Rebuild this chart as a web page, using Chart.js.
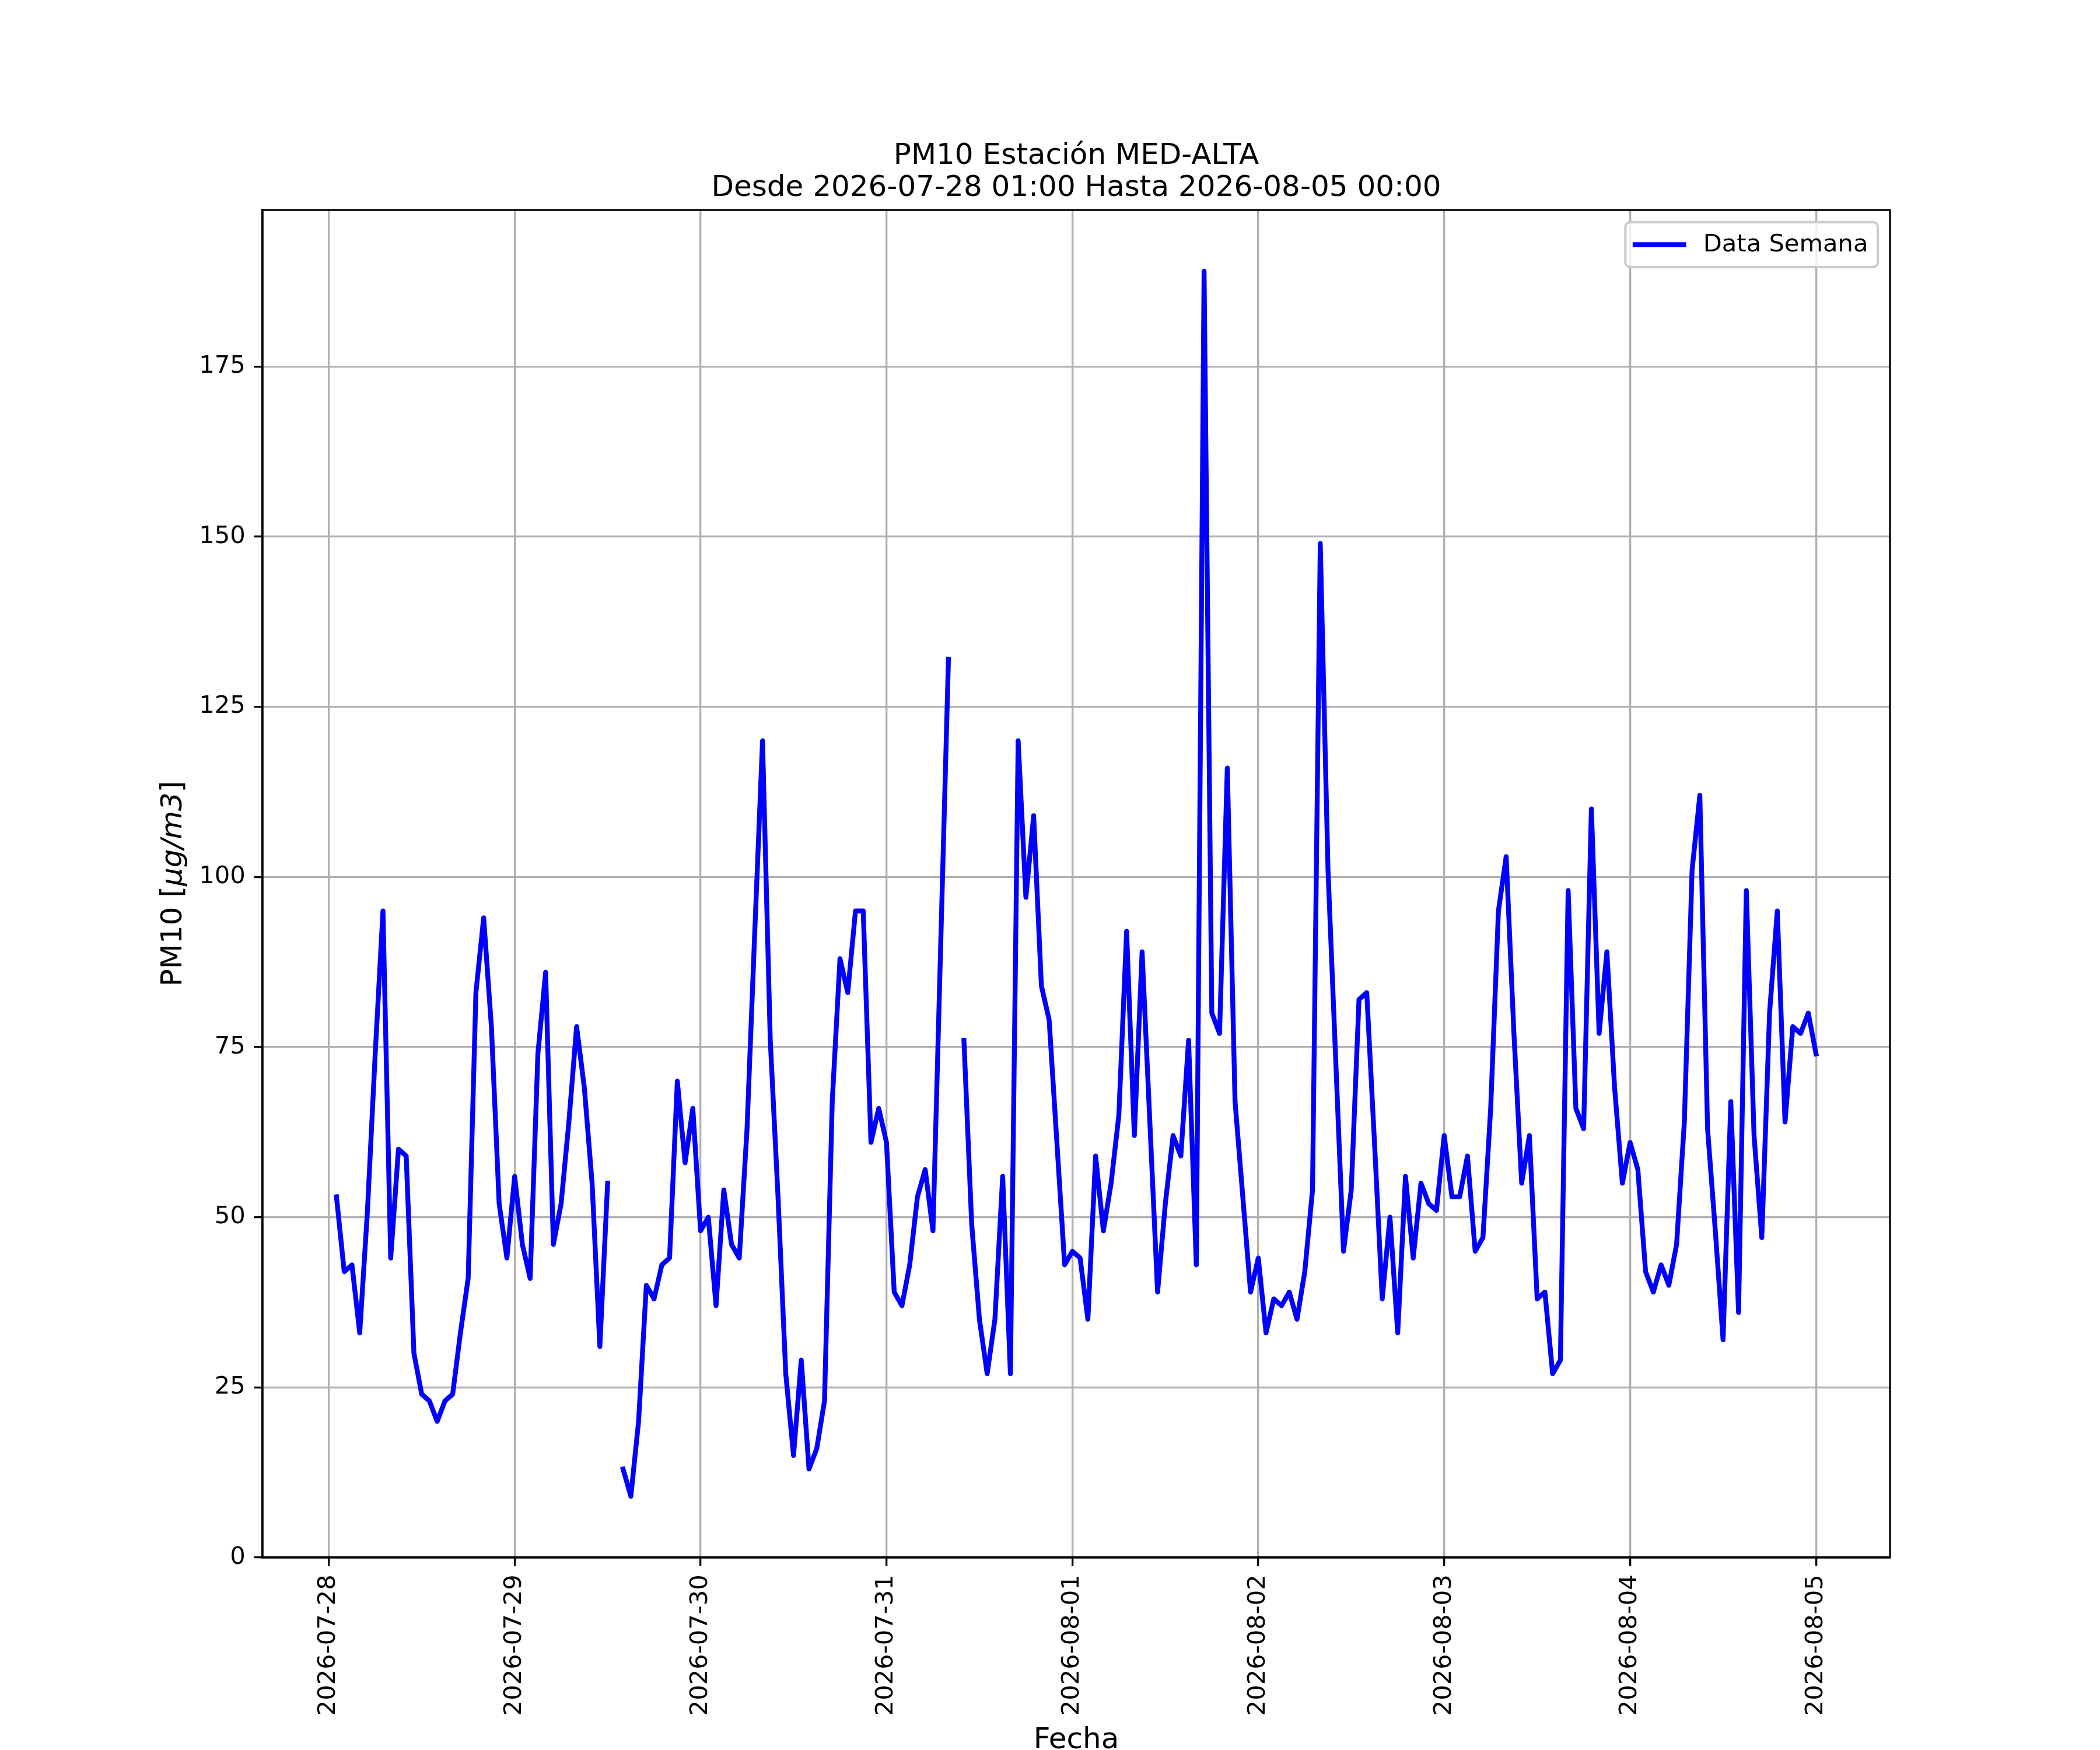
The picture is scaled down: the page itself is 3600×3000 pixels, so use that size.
<!DOCTYPE html>
<html>
<head>
<meta charset="utf-8">
<title>PM10 Estación MED-ALTA</title>
<script src="https://cdn.jsdelivr.net/npm/chart.js@4/dist/chart.umd.min.js"></script>
<style>
  html, body { margin: 0; padding: 0; background: #fff; }
  canvas { display: block; }
</style>
</head>
<body>
<canvas id="chart" width="3600" height="3000"></canvas>
<script>
// day ticks on the x axis
const dayLabels = ["2026-07-28", "2026-07-29", "2026-07-30", "2026-07-31",
                   "2026-08-01", "2026-08-02", "2026-08-03", "2026-08-04", "2026-08-05"];
const yTicks = [0, 25, 50, 75, 100, 125, 150, 175];

// hourly PM10, each list runs 01:00 .. 24:00 of that day (null = missing hour)
const pm10Jul28 = [53, 42, 43, 33, 51, 74, 95, 44, 60, 59, 30, 24, 23, 20, 23, 24, 33, 41, 83, 94, 78, 52, 44, 56];
const pm10Jul29 = [46, 41, 74, 86, 46, 52, 64, 78, 69, 55, 31, 55, null, 13, 9, 20, 40, 38, 43, 44, 70, 58, 66, 48];
const pm10Jul30 = [50, 37, 54, 46, 44, 63, 92, 120, 76, 53, 27, 15, 29, 13, 16, 23, 67, 88, 83, 95, 95, 61, 66, 61];
const pm10Jul31 = [39, 37, 43, 53, 57, 48, 90, 132, null, 76, 49, 35, 27, 35, 56, 27, 120, 97, 109, 84, 79, 61, 43, 45];
const pm10Aug01 = [44, 35, 59, 48, 55, 65, 92, 62, 89, 64, 39, 52, 62, 59, 76, 43, 189, 80, 77, 116, 67, 53, 39, 44];
const pm10Aug02 = [33, 38, 37, 39, 35, 42, 54, 149, 101, 73, 45, 54, 82, 83, 61, 38, 50, 33, 56, 44, 55, 52, 51, 62];
const pm10Aug03 = [53, 53, 59, 45, 47, 66, 95, 103, 77, 55, 62, 38, 39, 27, 29, 98, 66, 63, 110, 77, 89, 69, 55, 61];
const pm10Aug04 = [57, 42, 39, 43, 40, 46, 64, 101, 112, 63, 48, 32, 67, 36, 98, 62, 47, 80, 95, 64, 78, 77, 80, 74];

const pm10 = [].concat(pm10Jul28, pm10Jul29, pm10Jul30, pm10Jul31,
                       pm10Aug01, pm10Aug02, pm10Aug03, pm10Aug04);
// x = hours since 2026-07-28 00:00
const points = pm10.map((v, i) => ({ x: i + 1, y: v }));

const PT = 300 / 72;            // figure is 12x10 in at 300 dpi
const FONT = "'DejaVu Sans'";
Chart.defaults.font.family = FONT;
Chart.defaults.color = '#000';

// matplotlib-like frame, y label with italic units, legend box
const decor = {
    id: 'decor',
    afterDatasetsDraw(chart) {
        const { ctx, chartArea: a } = chart;
        ctx.save();
        ctx.strokeStyle = '#000';
        ctx.lineWidth = 0.8 * PT;
        ctx.strokeRect(a.left, a.top, a.right - a.left, a.bottom - a.top);

        // legend, upper right
        const fs = 10 * PT;
        ctx.font = fs + "px " + FONT;
        const label = chart.data.datasets[0].label;
        const tw = ctx.measureText(label).width;
        const pad = 0.4 * fs, hl = 2 * fs, htp = 0.8 * fs, bap = 0.5 * fs;
        const w = 2 * pad + hl + htp + tw;
        const h = 2 * pad + fs * 1.05;
        const right = a.right - bap, top = a.top + bap, left = right - w;
        ctx.beginPath();
        ctx.roundRect(left, top, w, h, 0.2 * fs);
        ctx.fillStyle = 'rgba(255,255,255,0.8)';
        ctx.fill();
        ctx.strokeStyle = '#cccccc';
        ctx.lineWidth = 1 * PT;
        ctx.stroke();
        const cy = top + h / 2;
        ctx.beginPath();
        ctx.moveTo(left + pad, cy);
        ctx.lineTo(left + pad + hl, cy);
        ctx.strokeStyle = '#0000ff';
        ctx.lineWidth = 2 * PT;
        ctx.lineCap = 'square';
        ctx.stroke();
        ctx.fillStyle = '#000';
        ctx.textBaseline = 'middle';
        ctx.textAlign = 'left';
        ctx.fillText(label, left + pad + hl + htp, cy + 1);
        ctx.restore();
    },
    afterDraw(chart) {
        const { ctx, chartArea: a } = chart;
        const fs = 12 * PT;
        const parts = [["PM10 [", ""], ["μg/m3", "italic "], ["]", ""]];
        ctx.save();
        const widths = parts.map(p => { ctx.font = p[1] + fs + "px " + FONT; return ctx.measureText(p[0]).width; });
        const total = widths.reduce((s, v) => s + v, 0);
        ctx.translate(298, (a.top + a.bottom) / 2);
        ctx.rotate(-Math.PI / 2);
        ctx.fillStyle = '#000';
        ctx.textBaseline = 'middle';
        ctx.textAlign = 'left';
        let x = -total / 2;
        parts.forEach((p, i) => {
            ctx.font = p[1] + fs + "px " + FONT;
            ctx.fillText(p[0], x, 0);
            x += widths[i];
        });
        ctx.restore();
    }
};

new Chart(document.getElementById('chart'), {
    type: 'line',
    data: {
        datasets: [{
            label: 'Data Semana',
            data: points,
            borderColor: '#0000ff',
            backgroundColor: '#0000ff',
            borderWidth: 2 * PT,
            borderJoinStyle: 'round',
            borderCapStyle: 'square',
            pointRadius: 0,
            tension: 0,
            spanGaps: false,
            fill: false
        }]
    },
    options: {
        responsive: false,
        devicePixelRatio: 1,
        animation: false,
        parsing: { xAxisKey: 'x', yAxisKey: 'y' },
        layout: { padding: { left: 0, right: 360, top: 0, bottom: 0 } },
        plugins: {
            legend: { display: false },
            tooltip: { enabled: false },
            title: {
                display: true,
                fullSize: false,
                text: ['PM10 Estación MED-ALTA', 'Desde 2026-07-28 01:00 Hasta 2026-08-05 00:00'],
                color: '#000',
                font: { family: FONT, size: 12 * PT, weight: 'normal', lineHeight: 1.1 },
                padding: { top: 240.5, bottom: 9.5 }
            }
        },
        scales: {
            x: {
                type: 'linear',
                min: 1 - 0.05 * 191,
                max: 192 + 0.05 * 191,
                afterBuildTicks: s => { s.ticks = dayLabels.map((d, i) => ({ value: i * 24 })); },
                afterFit: s => { s.height = 330; },
                ticks: {
                    autoSkip: false,
                    maxRotation: 90,
                    minRotation: 90,
                    padding: 3.5 * PT,
                    font: { size: 10 * PT },
                    callback: v => dayLabels[Math.round(v / 24)]
                },
                grid: {
                    color: '#b0b0b0',
                    lineWidth: 0.8 * PT,
                    drawTicks: true,
                    tickLength: 3.5 * PT,
                    tickColor: '#000',
                    tickWidth: 0.8 * PT
                },
                border: { display: true, color: '#000', width: 0.8 * PT },
                title: {
                    display: true,
                    text: 'Fecha',
                    color: '#000',
                    font: { size: 12 * PT, lineHeight: 0.62 },
                    padding: 0
                }
            },
            y: {
                type: 'linear',
                min: 0,
                max: 198,
                afterBuildTicks: s => { s.ticks = yTicks.map(v => ({ value: v })); },
                afterFit: s => { s.width = 450; },
                ticks: {
                    padding: 3.5 * PT,
                    font: { size: 10 * PT },
                    callback: v => String(v)
                },
                grid: {
                    color: '#b0b0b0',
                    lineWidth: 0.8 * PT,
                    drawTicks: true,
                    tickLength: 3.5 * PT,
                    tickColor: '#000',
                    tickWidth: 0.8 * PT
                },
                border: { display: true, color: '#000', width: 0.8 * PT }
            }
        }
    },
    plugins: [decor]
});
</script>
</body>
</html>
